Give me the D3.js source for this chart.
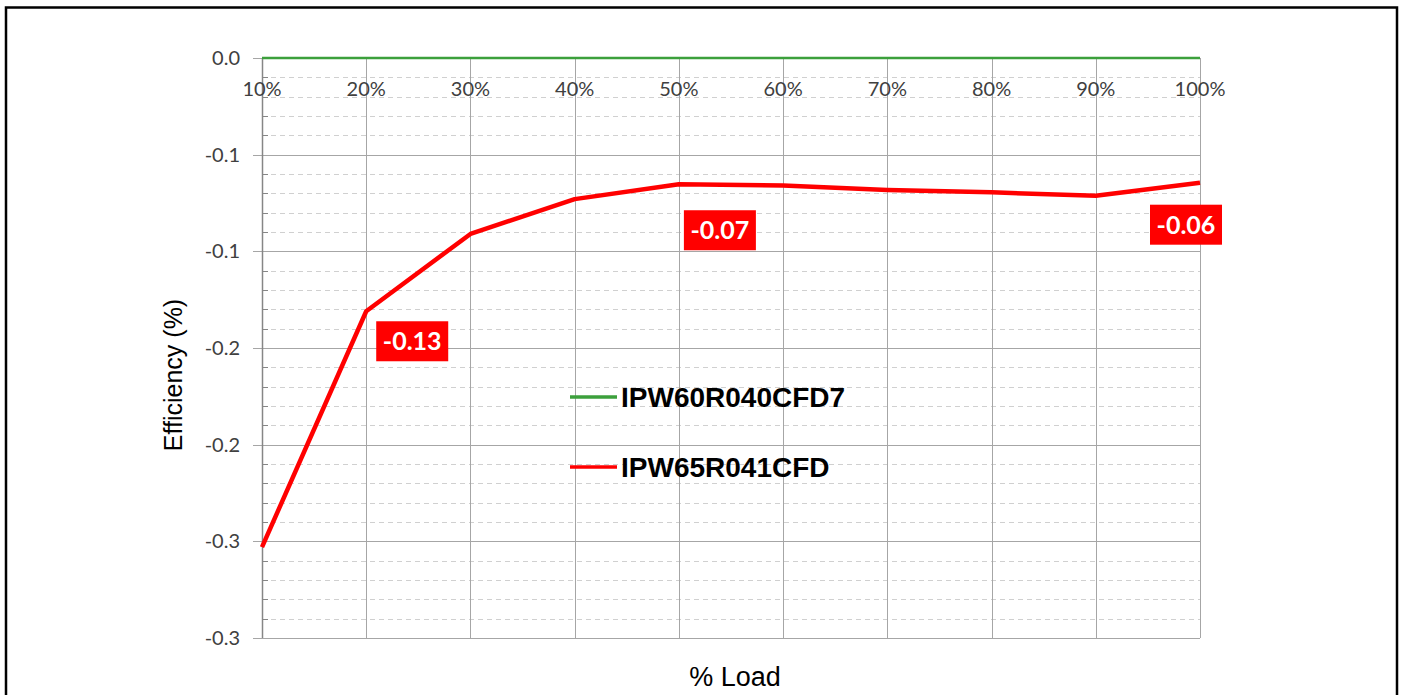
<!DOCTYPE html>
<html>
<head>
<meta charset="utf-8">
<script src="https://cdn.jsdelivr.net/npm/d3@7"></script>
<style>
  body { margin: 0; background: #fff; }
  svg { display: block; }
</style>
</head>
<body>
<svg width="1405" height="695"></svg>
<script>
// data
const loads = ["10%", "20%", "30%", "40%", "50%", "60%", "70%", "80%", "90%", "100%"]
const cfd7 = [0, 0, 0, 0, 0, 0, 0, 0, 0, 0]
const cfd = [-0.253, -0.131, -0.091, -0.073, -0.0653, -0.066, -0.0683, -0.0695, -0.0712, -0.0645]
const seriesNames = ["IPW60R040CFD7", "IPW65R041CFD"]
const yTicks = [0, -0.05, -0.1, -0.15, -0.2, -0.25, -0.3]
const yTickLabels = ["0.0", "-0.1", "-0.1", "-0.2", "-0.2", "-0.3", "-0.3"]
// labelled points (index into loads) and their text
const labelIdx = [1, 4, 9]
const labelText = ["-0.13", "-0.07", "-0.06"]

const svg = d3.select("svg")
const width = +svg.attr("width")
const height = +svg.attr("height")

// outer frame
svg.append("rect")
  .attr("x", 6).attr("y", 7.5)
  .attr("width", 1391).attr("height", 700)
  .attr("fill", "none")
  .attr("stroke", "#000")
  .attr("stroke-width", 2.5)

const plot = {left: 262, right: 1200, top: 58, bottom: 638}

const x = d3.scalePoint()
  .domain(loads)
  .range([plot.left, plot.right])

const y = d3.scaleLinear()
  .domain([-0.3, 0])
  .range([plot.bottom, plot.top])

const g = svg.append("g")

// minor gridlines, every 0.01
const minor = d3.range(-29, 0).map(i => i / 100).filter(v => Math.abs(Math.round(v * 100) % 5) !== 0)
g.selectAll("line.minor")
  .data(minor)
  .join("line")
  .attr("x1", plot.left).attr("x2", plot.right)
  .attr("y1", d => Math.round(y(d)) + 0.5).attr("y2", d => Math.round(y(d)) + 0.5)
  .attr("stroke", "#d0d0d0")
  .attr("stroke-dasharray", "5,4")

// minor tick marks on the value axis
g.selectAll("line.minortick")
  .data(minor)
  .join("line")
  .attr("x1", plot.left).attr("x2", plot.left + 6)
  .attr("y1", d => Math.round(y(d)) + 0.5).attr("y2", d => Math.round(y(d)) + 0.5)
  .attr("stroke", "#868686")

// major gridlines
g.selectAll("line.major")
  .data(yTicks)
  .join("line")
  .attr("x1", plot.left - 9).attr("x2", plot.right)
  .attr("y1", d => Math.round(y(d)) + 0.5).attr("y2", d => Math.round(y(d)) + 0.5)
  .attr("stroke", "#a6a6a6")

// vertical gridlines at each category
g.selectAll("line.vgrid")
  .data(loads)
  .join("line")
  .attr("x1", d => Math.round(x(d)) + 0.5).attr("x2", d => Math.round(x(d)) + 0.5)
  .attr("y1", plot.top).attr("y2", plot.bottom)
  .attr("stroke", d => d === loads[0] ? "#868686" : "#a6a6a6")
  .attr("stroke-width", d => d === loads[0] ? 1.5 : 1)

// y tick labels
g.selectAll("text.ytick")
  .data(yTicks)
  .join("text")
  .attr("x", 240)
  .attr("y", d => y(d))
  .attr("dy", "0.35em")
  .attr("text-anchor", "end")
  .attr("font-family", "Lato, 'Open Sans', sans-serif")
  .attr("font-size", 20)
  .attr("fill", "#404040")
  .text((d, i) => yTickLabels[i])

// x tick labels sit just under the zero line
g.selectAll("text.xtick")
  .data(loads)
  .join("text")
  .attr("x", d => x(d))
  .attr("y", 96)
  .attr("text-anchor", "middle")
  .attr("font-family", "Lato, 'Open Sans', sans-serif")
  .attr("font-size", 20)
  .attr("fill", "#404040")
  .text(d => d)

// series lines
const line = d3.line()
  .x((d, i) => x(loads[i]))
  .y(d => y(d))

g.append("path")
  .datum(cfd)
  .attr("d", line)
  .attr("fill", "none")
  .attr("stroke", "#ff0000")
  .attr("stroke-width", 4.5)
  .attr("stroke-linejoin", "round")

g.append("path")
  .datum(cfd7)
  .attr("d", line)
  .attr("fill", "none")
  .attr("stroke", "#3ca03c")
  .attr("stroke-width", 2.5)

// data labels
const labelOffset = [[46, 30], [41, 46], [-14, 42]]
labelIdx.forEach((idx, k) => {
  const cx = x(loads[idx]) + labelOffset[k][0]
  const cy = y(cfd[idx]) + labelOffset[k][1]
  g.append("rect")
    .attr("x", cx - 36).attr("y", cy - 20)
    .attr("width", 72).attr("height", 40)
    .attr("fill", "#ff0000")
  g.append("text")
    .attr("x", cx).attr("y", cy)
    .attr("dy", "0.36em")
    .attr("text-anchor", "middle")
    .attr("font-family", "Lato, 'Open Sans', sans-serif")
    .attr("font-weight", "bold")
    .attr("font-size", 25)
    .attr("fill", "#fff")
    .text(labelText[k])
})

// legend
const legendColors = ["#3ca03c", "#ff0000"]
const legend = g.selectAll("g.legend")
  .data(seriesNames)
  .join("g")
  .attr("transform", (d, i) => `translate(570, ${397 + i * 70})`)
legend.append("line")
  .attr("x1", 0).attr("x2", 47)
  .attr("stroke", (d, i) => legendColors[i])
  .attr("stroke-width", 3.5)
legend.append("text")
  .attr("x", 51)
  .attr("dy", "0.36em")
  .attr("font-family", "'Liberation Sans', Arial, sans-serif")
  .attr("font-weight", "bold")
  .attr("font-size", 28)
  .attr("fill", "#000")
  .text(d => d)

// axis titles
g.append("text")
  .attr("transform", "translate(182, 375) rotate(-90)")
  .attr("text-anchor", "middle")
  .attr("font-family", "'Liberation Sans', Arial, sans-serif")
  .attr("font-size", 25)
  .attr("fill", "#000")
  .text("Efficiency (%)")

g.append("text")
  .attr("x", 735).attr("y", 686)
  .attr("text-anchor", "middle")
  .attr("font-family", "'Liberation Sans', Arial, sans-serif")
  .attr("font-size", 27)
  .attr("fill", "#000")
  .text("% Load")
</script>
</body>
</html>
